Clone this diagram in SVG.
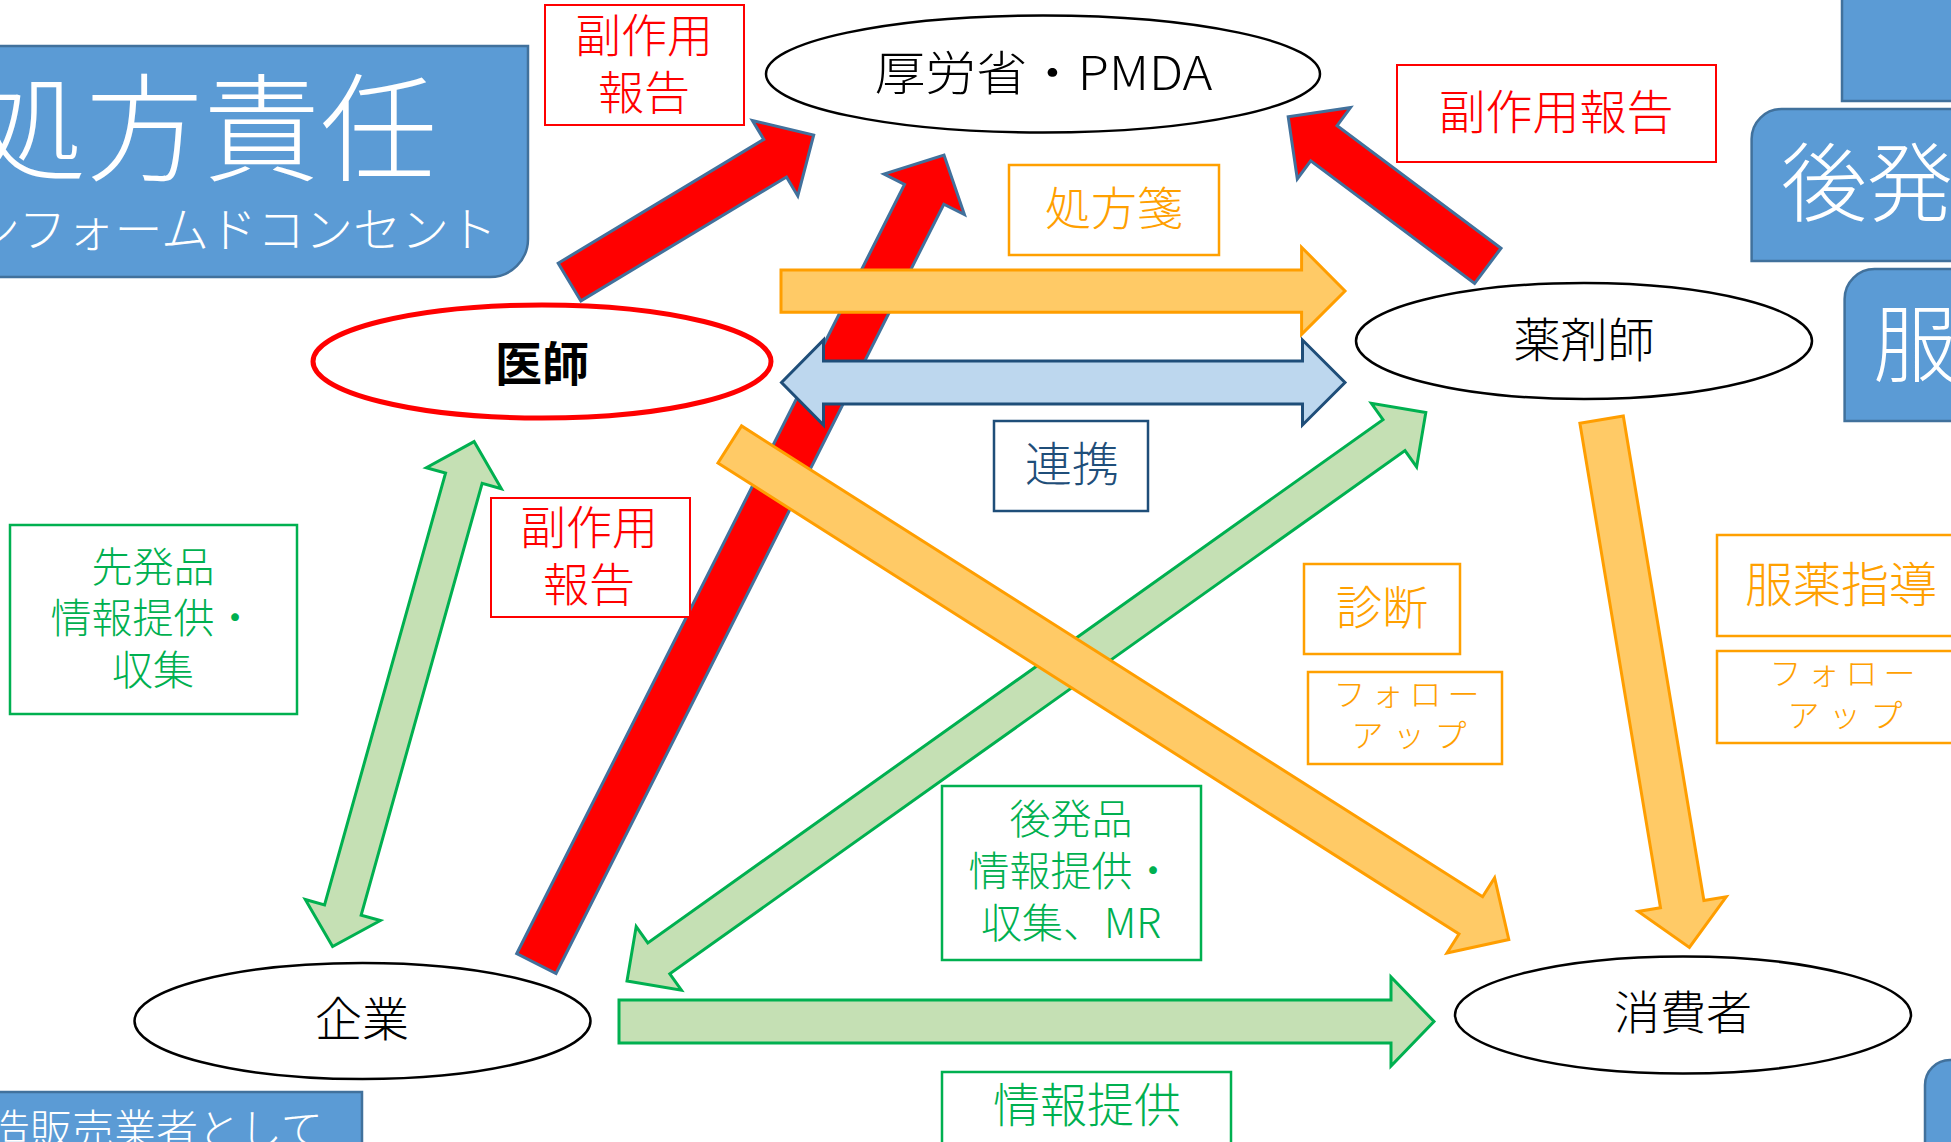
<svg xmlns="http://www.w3.org/2000/svg" width="1951" height="1142" viewBox="0 0 1951 1142">
<style>
text{font-family:"Noto Sans CJK JP","Noto Sans CJK SC",sans-serif;font-weight:300;text-anchor:middle;dominant-baseline:central}
.blue{fill:#5B9BD5;stroke:#41719C;stroke-width:2.5}
.wt{fill:#FFFFFF}
.ell{fill:#FFFFFF;stroke:#000000;stroke-width:2.5}
.lr{fill:#FFFFFF;stroke:#FF0000;stroke-width:2}
.lo{fill:#FFFFFF;stroke:#FFA000;stroke-width:2.5}
.lg{fill:#FFFFFF;stroke:#00B050;stroke-width:2.5}
.lb{fill:#FFFFFF;stroke:#1F4E79;stroke-width:2.5}
.tr{fill:#FF0000}
.to{fill:#FFA000}
.tg{fill:#00B050}
.tb{fill:#1F4E79}
.tk{fill:#000000}
.ar{fill:#FF0000;stroke:#41719C;stroke-width:3;stroke-linejoin:miter}
.ao{fill:#FFCA66;stroke:#FF9E00;stroke-width:3;stroke-linejoin:miter}
.ag{fill:#C5E0B4;stroke:#00B050;stroke-width:3;stroke-linejoin:miter}
.ab{fill:#BDD7EE;stroke:#1F4E79;stroke-width:3;stroke-linejoin:miter}
</style>
<rect width="1951" height="1142" fill="#FFFFFF"/>

<g id="box-shohou-sekinin">
<path class="blue" d="M -40 46 H 528 V 239 A 38 38 0 0 1 490 277 H -40 Z"/>
<text class="wt" x="-31" y="121" font-size="117" style="text-anchor:start">処方責任</text>
<text class="wt" x="-76" y="226" font-size="48" style="text-anchor:start">インフォームドコンセント</text>
</g>
<g id="box-seizou">
<rect class="blue" x="-20" y="1092" width="382" height="70"/>
<text class="wt" x="-54" y="1126" font-size="42" style="text-anchor:start">製造販売業者として</text>
</g>
<g id="box-right-top">
<rect class="blue" x="1842" y="-10" width="120" height="111"/>
</g>
<g id="box-kouhatsu">
<path class="blue" d="M 1751.6 139 A 30 30 0 0 1 1781.6 109 H 1962 V 261 H 1751.6 Z"/>
<text class="wt" x="1781" y="177" font-size="86" style="text-anchor:start">後発</text>
</g>
<g id="box-fuku">
<path class="blue" d="M 1844.6 299 A 30 30 0 0 1 1874.6 269 H 1962 V 421 H 1844.6 Z"/>
<text class="wt" x="1873" y="338" font-size="84" style="text-anchor:start">服</text>
</g>
<g id="box-right-bottom">
<path class="blue" d="M 1925 1085 A 25 25 0 0 1 1950 1060 H 1962 V 1160 H 1925 Z"/>
</g>

<g id="connectors">
<polygon id="arr-kigyou-kourou" class="ar" points="556.0,973.5 943.8,204.2 964.4,214.6 944,155 884.0,174.1 904.5,184.4 516.7,953.7"/>
<polygon id="arr-ishi-kourou" class="ar" points="580.9,300.9 786.5,177.0 797.8,195.9 813.7,135 752.4,120.5 763.8,139.4 558.2,263.2"/>
<polygon id="arr-yakuzaishi-kourou" class="ar" points="1501.0,248.2 1337.1,125.7 1350.5,107.6 1288.2,116.7 1297.3,179.0 1310.7,160.9 1474.6,283.4"/>
<polygon id="arr-ishi-kigyou" class="ag" points="474.1,441.6 501.4,488.7 482.15,483.3 361.15,915.1 380.4,920.5 332.6,946.6 305.3,899.5 324.55,904.9 445.55,473.1 426.3,467.7"/>
<polygon id="arr-yakuzaishi-kigyou" class="ag" points="1425.8,412.5 1416.6,466.9 1405.0,450.6 669.8,973.9 681.4,990.2 627,981 636.2,926.6 647.8,942.9 1383.0,419.6 1371.4,403.3"/>
<polygon id="arr-kigyou-shouhisha" class="ag" points="619,1000 1391,1000 1391,977 1434,1021.5 1391,1066 1391,1043 619,1043"/>
<polygon id="arr-shohousen" class="ao" points="781,270 1301.6,270 1301.6,247.3 1345,291 1301.6,334.3 1301.6,312.3 781,312.3"/>
<polygon id="arr-renkei" class="ab" points="781.5,382.5 823.5,340 823.5,361 1302.5,361 1302.5,340 1345,382.5 1302.5,425 1302.5,404 823.5,404 823.5,425"/>
<polygon id="arr-ishi-shouhisha" class="ao" points="717.95,463.07 1459.0,934.0 1447.0,952.9 1508.8,939.5 1494.6,877.9 1482.6,896.8 741.55,425.93"/>
<polygon id="arr-yakuzaishi-shouhisha" class="ao" points="1579.9,423.3 1660.5,907.7 1638.2,911.4 1689.4,947.5 1726.2,896.8 1703.9,900.5 1623.3,416.0"/>
</g>

<g id="node-kourou">
<ellipse class="ell" cx="1043" cy="74" rx="277" ry="58.5"/>
<text class="tk" x="1043.5" y="69" font-size="47" textLength="338" lengthAdjust="spacingAndGlyphs">厚労省・PMDA</text>
</g>
<g id="node-ishi">
<ellipse cx="542" cy="361.5" rx="229" ry="56.5" fill="#FFFFFF" stroke="#FF0000" stroke-width="5"/>
<text class="tk" x="542" y="360" font-size="47" style="font-weight:700">医師</text>
</g>
<g id="node-yakuzaishi">
<ellipse class="ell" cx="1584" cy="341" rx="228" ry="58"/>
<text class="tk" x="1584" y="336" font-size="47">薬剤師</text>
</g>
<g id="node-kigyou">
<ellipse class="ell" cx="362.5" cy="1021" rx="228" ry="58"/>
<text class="tk" x="362" y="1015" font-size="47">企業</text>
</g>
<g id="node-shouhisha">
<ellipse class="ell" cx="1683" cy="1015" rx="228" ry="58.5"/>
<text class="tk" x="1683" y="1009" font-size="46">消費者</text>
</g>

<g id="label-fukusayou-1">
<rect class="lr" x="545" y="5" width="199" height="120"/>
<text class="tr" x="644" y="32" font-size="46">副作用</text>
<text class="tr" x="644" y="89" font-size="46">報告</text>
</g>
<g id="label-fukusayou-2">
<rect class="lr" x="1397" y="65" width="319" height="97"/>
<text class="tr" x="1556" y="108" font-size="47">副作用報告</text>
</g>
<g id="label-fukusayou-3">
<rect class="lr" x="491" y="498" width="199" height="119"/>
<text class="tr" x="589" y="524" font-size="46">副作用</text>
<text class="tr" x="589" y="581" font-size="46">報告</text>
</g>
<g id="label-shohousen">
<rect class="lo" x="1009" y="165" width="210" height="90"/>
<text class="to" x="1114" y="204.5" font-size="46">処方箋</text>
</g>
<g id="label-renkei">
<rect class="lb" x="994" y="421" width="154" height="90"/>
<text class="tb" x="1072" y="460" font-size="47">連携</text>
</g>
<g id="label-shindan">
<rect class="lo" x="1304" y="564" width="156" height="90"/>
<text class="to" x="1382" y="604" font-size="46">診断</text>
</g>
<g id="label-follow-1">
<rect class="lo" x="1308" y="672" width="194" height="92"/>
<text class="to" x="1406.5" y="692" font-size="32" textLength="146" lengthAdjust="spacing">フォロー</text>
<text class="to" x="1409" y="733" font-size="32" textLength="115" lengthAdjust="spacing">アップ</text>
</g>
<g id="label-fukuyaku">
<rect class="lo" x="1717" y="535" width="250" height="101"/>
<text class="to" x="1841" y="580.6" font-size="48">服薬指導</text>
</g>
<g id="label-follow-2">
<rect class="lo" x="1717" y="651" width="250" height="92"/>
<text class="to" x="1842.5" y="670.6" font-size="32" textLength="146" lengthAdjust="spacing">フォロー</text>
<text class="to" x="1845" y="713" font-size="32" textLength="115" lengthAdjust="spacing">アップ</text>
</g>
<g id="label-senpatsu">
<rect class="lg" x="10" y="525" width="287" height="189"/>
<text class="tg" x="153" y="564" font-size="41">先発品</text>
<text class="tg" x="153" y="615" font-size="41">情報提供・</text>
<text class="tg" x="153" y="667" font-size="41">収集</text>
</g>
<g id="label-kouhatsu">
<rect class="lg" x="942" y="786" width="259" height="174"/>
<text class="tg" x="1071" y="816" font-size="41">後発品</text>
<text class="tg" x="1071" y="868" font-size="41">情報提供・</text>
<text class="tg" x="1071" y="919.5" font-size="41">収集、MR</text>
</g>
<g id="label-jouhou">
<rect class="lg" x="942" y="1072" width="289" height="90"/>
<text class="tg" x="1087" y="1101" font-size="47">情報提供</text>
</g>
</svg>
